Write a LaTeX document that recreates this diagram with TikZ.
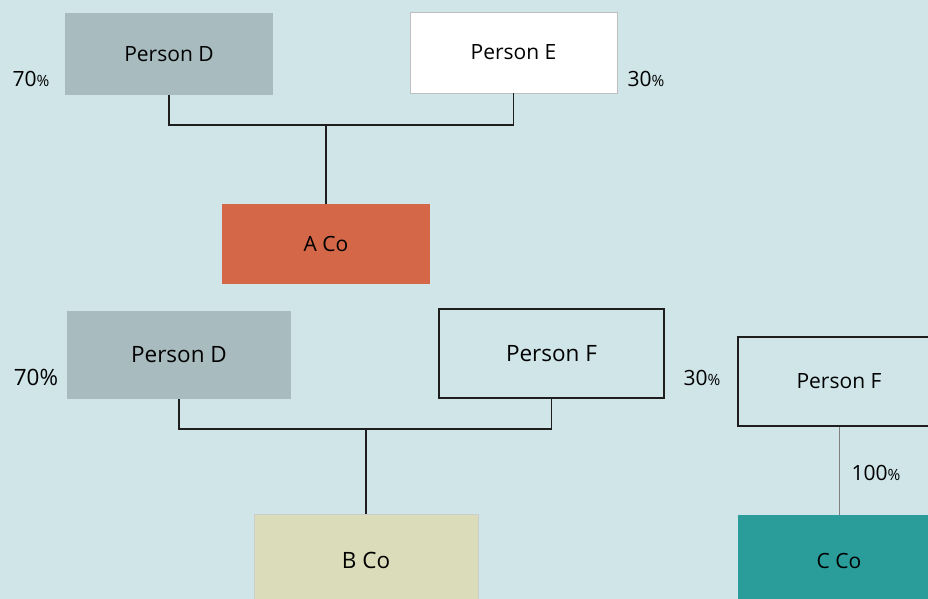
\documentclass[tikz,border=0pt]{standalone}
\usepackage{fontspec}
\setmainfont{Open Sans}
\usepackage{xcolor}
\definecolor{bgcol}{HTML}{CFE5E8}
\definecolor{persgray}{HTML}{A8BBBF}
\definecolor{acol}{HTML}{D36747}
\definecolor{bcol}{HTML}{DBDCBA}
\definecolor{ccol}{HTML}{2A9D9B}
\definecolor{linecol}{HTML}{1E1E1E}
\newcommand{\spct}{{\fontsize{15.5}{18}\selectfont\%}}

\begin{document}
\begin{tikzpicture}[x=1pt,y=-1pt]
\tikzset{
    box/.style={%
        rectangle,
        inner sep=0pt,
        font=\fontsize{21}{25}\selectfont
        },
    bigbox/.style={%
        box,
        font=\fontsize{22.5}{27}\selectfont
        },
    link/.style={%
        draw=linecol, line width=1.4pt
        },
    pct/.style={%
        font=\fontsize{21}{25}\selectfont
        },
}
\useasboundingbox (0,0) rectangle (928,599);
\fill[bgcol] (0,0) rectangle (928,599);
\clip (0,0) rectangle (928,599);
%%%UPPER CHART
\node[box, fill=persgray, minimum width=208pt, minimum height=82pt] (pd1) at (169,54) {Person D};
\node[box, fill=white, draw=gray!50, line width=0.6pt, minimum width=207pt, minimum height=81pt] (pe) at (513.5,52.5) {Person E};
\node[box, fill=acol, minimum width=208pt, minimum height=80pt] (aco) at (326,244) {A Co};
\node[pct] (l1) at (31,79) {70\spct};
\node[pct] (l2) at (646,79) {30\spct};
\coordinate (j1) at (326,125);
\draw[link] (pd1.south) |- (j1) -| (pe.south);
\draw[link] (j1) -- (aco.north);
%%%LOWER CHART
\node[bigbox, fill=persgray, minimum width=224pt, minimum height=88pt] (pd2) at (179,355) {Person D};
\node[bigbox, draw=linecol, line width=1.4pt, minimum width=225pt, minimum height=89pt] (pf1) at (551.5,353.5) {Person F};
\node[bigbox, fill=bcol, draw=gray!40, line width=0.6pt, minimum width=224pt, minimum height=92pt] (bco) at (366,560) {B Co};
\node[pct, font=\fontsize{22.5}{27}\selectfont] (l3) at (36,377) {70\%};
\node[pct] (l4) at (702,378) {30\spct};
\coordinate (j2) at (366,429);
\draw[link] (pd2.south) |- (j2) -| (pf1.south);
\draw[link] (j2) -- (bco.north);
%%%RIGHT CHART
\node[box, draw=linecol, line width=1.4pt, minimum width=202pt, minimum height=89pt] (pf2) at (839,381.5) {Person F};
\node[box, fill=ccol, minimum width=202pt, minimum height=92pt] (cco) at (839,561) {C Co};
\node[pct] (l5) at (876,473) {100\spct};
\draw[gray, line width=0.8pt] (pf2.south) -- (cco.north);
\end{tikzpicture}
\end{document}
